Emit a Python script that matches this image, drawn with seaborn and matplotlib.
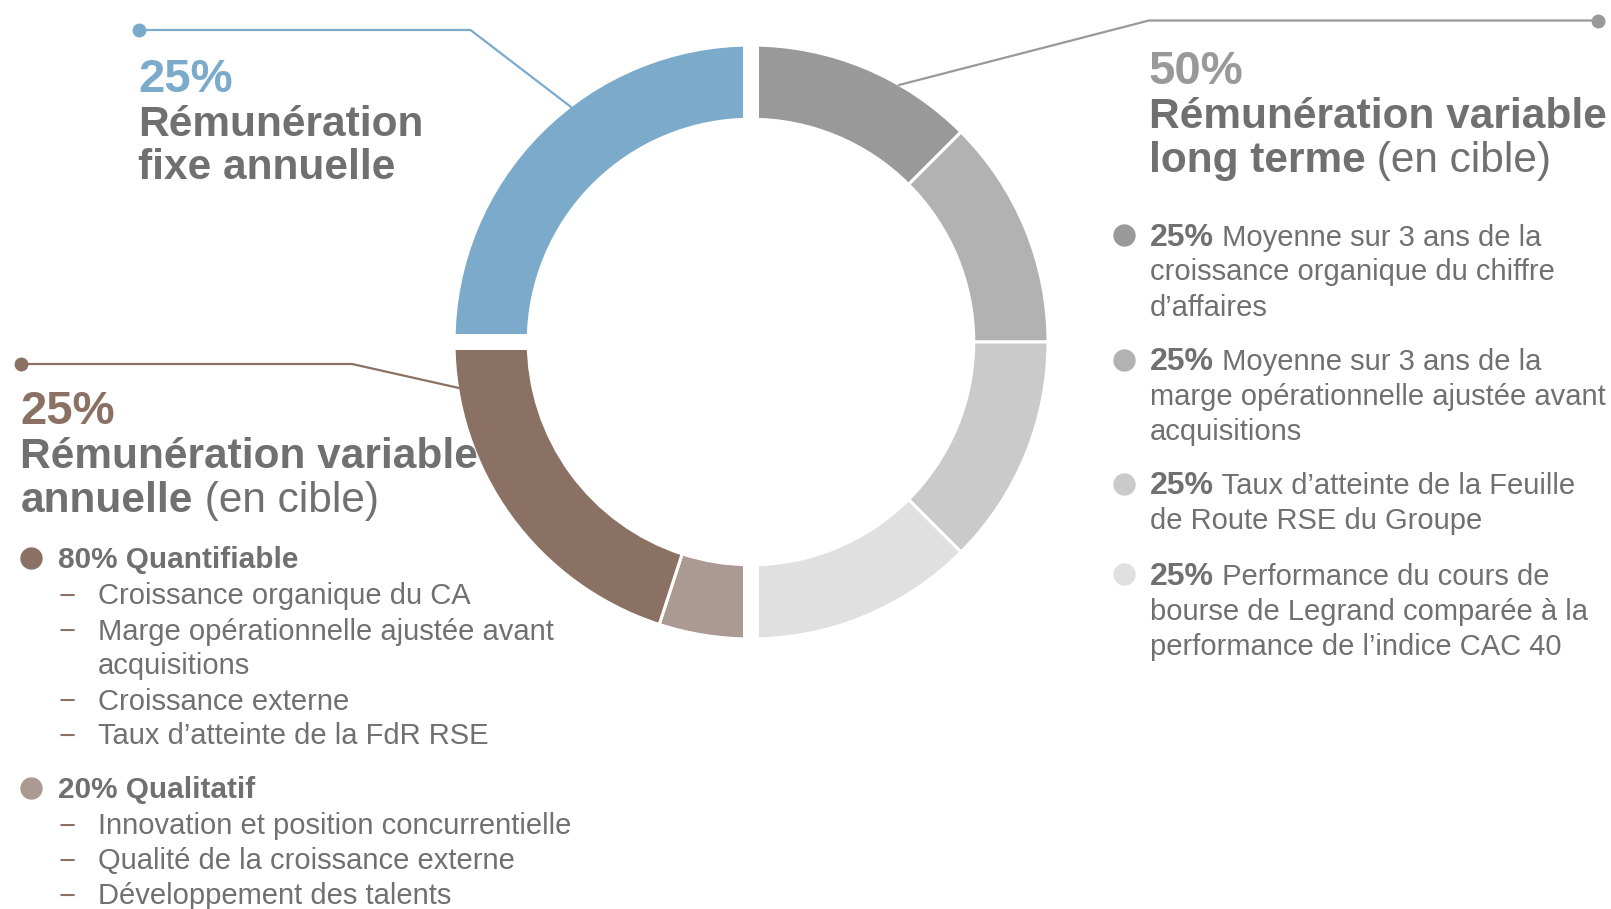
import numpy as np
import matplotlib
matplotlib.use("Agg")
import matplotlib.pyplot as plt
import seaborn as sns

# Données
lt_labels = ["Moyenne sur 3 ans de la\ncroissance organique du chiffre\nd’affaires",
             "Moyenne sur 3 ans de la\nmarge opérationnelle ajustée avant\nacquisitions",
             "Taux d’atteinte de la Feuille\nde Route RSE du Groupe",
             "Performance du cours de\nbourse de Legrand comparée à la\nperformance de l’indice CAC 40"]
lt_shares = [25, 25, 25, 25]
lt_colors = ["#999999", "#b2b2b2", "#cacaca", "#e0e0e0"]

va_labels = ["Quantifiable", "Qualitatif"]
va_shares = [80, 20]
va_colors = ["#8a7163", "#ab9a91"]
va_items = [["Croissance organique du CA", "Marge opérationnelle ajustée avant\nacquisitions",
             "Croissance externe", "Taux d’atteinte de la FdR RSE"],
            ["Innovation et position concurrentielle", "Qualité de la croissance externe",
             "Développement des talents"]]

groups = ["fixe", "variable annuelle", "long terme"]
group_pct = [25, 25, 50]
blue = "#7baacb"
txt = "#707070"

sns.set_theme(style="white")
plt.rcParams['font.family'] = ['Liberation Sans', 'DejaVu Sans']

fig = plt.figure(figsize=(16.11, 9.09), dpi=100)

# anneau : long terme (4), qualitatif, quantifiable, fixe - sens horaire depuis midi
values = [s * group_pct[2] / 100 for s in lt_shares] + \
         [va_shares[1] * group_pct[1] / 100, va_shares[0] * group_pct[1] / 100, group_pct[0]]
colors = lt_colors + [va_colors[1], va_colors[0], blue]

cx, cy, R = 751, 342, 297
axp = fig.add_axes([(cx - R) / 1611, (909 - cy - R) / 909, 2 * R / 1611, 2 * R / 909])
axp.pie(values, colors=colors, startangle=90, counterclock=False, radius=1,
        wedgeprops=dict(width=0.25, edgecolor="white", linewidth=2.2))
# espaces entre les groupes
for c in [0, group_pct[2], group_pct[2] + group_pct[1]]:
    th = np.deg2rad(90 - 360 * c / 100)
    axp.plot([0.6 * np.cos(th), 1.05 * np.cos(th)], [0.6 * np.sin(th), 1.05 * np.sin(th)],
             color="white", lw=11.5, solid_capstyle="butt")
axp.set_xlim(-1, 1)
axp.set_ylim(-1, 1)
axp.set_aspect("equal")
axp.axis("off")

ax = fig.add_axes([0, 0, 1, 1])
ax.set_xlim(0, 1611)
ax.set_ylim(909, 0)
ax.axis("off")
ax.patch.set_alpha(0)

renderer = fig.canvas.get_renderer()


def write(x, y, parts):
    for s, w, size, col in parts:
        t = ax.text(x, y, s, fontsize=size, fontweight=w, color=col, va="baseline", ha="left")
        x += t.get_window_extent(renderer).width


# lignes de rappel
ax.plot([138.5, 470.5, 571], [30, 30, 107], color=blue, lw=1.6)
ax.plot(138.5, 30, "o", color=blue, ms=9)
ax.plot([1598, 1149, 899], [20.5, 20.5, 85], color="#999999", lw=1.6)
ax.plot(1598, 20.5, "o", color="#999999", ms=9)
ax.plot([20.5, 352, 459], [364, 364, 388], color=va_colors[0], lw=1.6)
ax.plot(20.5, 364, "o", color=va_colors[0], ms=9)

# fixe
write(138, 92.5, [(f"{group_pct[0]}%", "bold", 34, blue)])
write(138, 135.6, [("Rémunération", "bold", 30.5, txt)])
write(138, 178.8, [("fixe annuelle", "bold", 30.5, txt)])

# long terme
write(1148.6, 84, [(f"{group_pct[2]}%", "bold", 34, "#999999")])
write(1148.6, 128.4, [("Rémunération variable", "bold", 30.5, txt)])
write(1148.6, 171.6, [("long terme", "bold", 30.5, txt), (" (en cible)", "normal", 30.5, txt)])

lt_y = [245.5, 370, 494, 584.6]
for i, lab in enumerate(lt_labels):
    ax.scatter(1124, lt_y[i] - 10.5, s=228, color=lt_colors[i], zorder=3)
    for k, ln in enumerate(lab.split("\n")):
        parts = [(ln, "normal", 21, txt)]
        if k == 0:
            parts = [(f"{lt_shares[i]}%", "bold", 23, txt), (" " + ln, "normal", 21, txt)]
        write(1149.7, lt_y[i] + 35 * k, parts)

# variable annuelle
write(20.5, 424.3, [(f"{group_pct[1]}%", "bold", 34, va_colors[0])])
write(20.5, 468.5, [("Rémunération variable", "bold", 30.5, txt)])
write(20.5, 511.6, [("annuelle", "bold", 30.5, txt), (" (en cible)", "normal", 30.5, txt)])

y = 568
for g in range(2):
    ax.scatter(31, y - 10.5, s=228, color=va_colors[g], zorder=3)
    write(58.5, y, [(f"{va_shares[g]}% {va_labels[g]}", "bold", 21.4, txt)])
    y += 36.5
    for item in va_items[g]:
        for k, ln in enumerate(item.split("\n")):
            if k == 0:
                ax.text(59, y, "−", fontsize=21, color=va_colors[0], va="baseline")
            write(97.6, y, [(ln, "normal", 21, txt)])
            y += 35
    y += 18.5

fig.savefig("out.png", dpi=100)
